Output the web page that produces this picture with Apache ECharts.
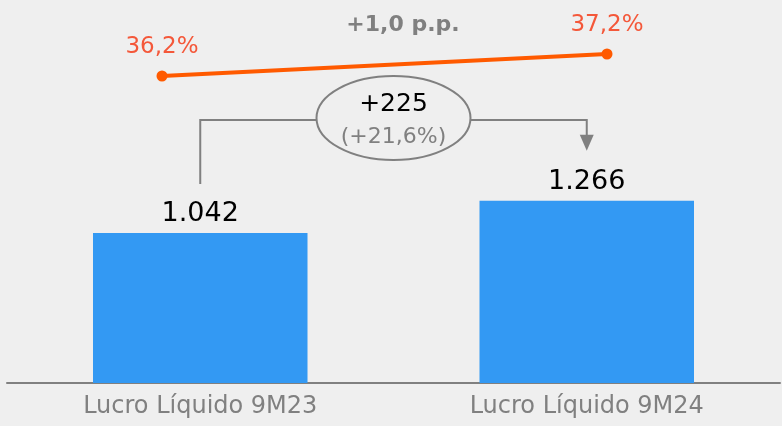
<!DOCTYPE html>
<html><head><meta charset="utf-8">
<script src="https://cdn.jsdelivr.net/npm/echarts@6/dist/echarts.min.js"></script>
<style>html,body{margin:0;padding:0;background:#efefef;}#c{width:782px;height:426px;}</style>
</head><body><div id="c"></div>
<script>
const categories = ['Lucro Líquido 9M23', 'Lucro Líquido 9M24'];
const lucro = [1042, 1266];
const margem = [36.2, 37.2];
const deltaAbs = '+225';
const deltaPct = '(+21,6%)';
const deltaPP = '+1,0 p.p.';

const FONT = 'DejaVu Sans';
function fmtThousand(v){ return String(v).replace(/\B(?=(\d{3})+(?!\d))/g, '.'); }
function fmtPct(v){ return v.toFixed(1).replace('.', ',') + '%'; }

const chart = echarts.init(document.getElementById('c'));
chart.setOption({
  backgroundColor: '#efefef',
  animation: false,
  grid: [
    {left: 7, right: 2, top: 0, bottom: 43},
    {left: 162, right: 175, top: 3.4, height: 99}
  ],
  xAxis: [
    {type: 'category', gridIndex: 0, data: categories,
     axisLine: {lineStyle: {color: '#808080', width: 2}},
     axisTick: {show: false},
     axisLabel: {color: '#808080', fontFamily: FONT, fontSize: 24, margin: 12}},
    {type: 'category', gridIndex: 1, data: categories, boundaryGap: false, show: false}
  ],
  yAxis: [
    {type: 'value', gridIndex: 0, min: 0, max: 2660, show: false, splitLine: {show: false}},
    {type: 'value', gridIndex: 1, min: 35, max: 39.5, show: false, splitLine: {show: false}}
  ],
  series: [
    {type: 'bar', xAxisIndex: 0, yAxisIndex: 0, data: lucro, barWidth: '55.5%',
     itemStyle: {color: '#3399f3'},
     label: {show: true, position: 'top', distance: 5, color: '#000', fontFamily: FONT, fontSize: 27,
       formatter: p => fmtThousand(p.value)}},
    {type: 'line', xAxisIndex: 1, yAxisIndex: 1, data: margem,
     lineStyle: {color: '#ff5a00', width: 4},
     itemStyle: {color: '#ff5a00'}, symbol: 'circle', symbolSize: 11,
     label: {show: true, position: 'top', distance: 12, color: '#f4583a', fontFamily: FONT, fontSize: 23,
       formatter: p => fmtPct(p.value)}}
  ]
});

const b1 = chart.convertToPixel({seriesIndex: 0}, [0, lucro[0]]);
const b2 = chart.convertToPixel({seriesIndex: 0}, [1, lucro[1]]);
const cx = (b1[0] + b2[0]) / 2, cy = 118, rx = 77, ry = 42;
const lineY = 120;
const grey = '#808080';
chart.setOption({
  graphic: [
    {type: 'polyline', shape: {points: [[b1[0], b1[1] - 49], [b1[0], lineY], [cx - rx, lineY]]},
     style: {stroke: grey, lineWidth: 2, fill: null}},
    {type: 'polyline', shape: {points: [[cx + rx, lineY], [b2[0], lineY], [b2[0], b2[1] - 64]]},
     style: {stroke: grey, lineWidth: 2, fill: null}},
    {type: 'polygon', shape: {points: [[b2[0] - 7, b2[1] - 66], [b2[0] + 7, b2[1] - 66], [b2[0], b2[1] - 50]]},
     style: {fill: grey}},
    {type: 'ellipse', shape: {cx: cx, cy: cy, rx: rx, ry: ry},
     style: {stroke: grey, lineWidth: 2, fill: '#efefef'}},
    {type: 'text', x: cx, y: 104, style: {text: deltaAbs, fill: '#000', font: '25px "DejaVu Sans"', align: 'center', verticalAlign: 'middle'}},
    {type: 'text', x: cx, y: 137, style: {text: deltaPct, fill: grey, font: '22px "DejaVu Sans"', align: 'center', verticalAlign: 'middle'}},
    {type: 'text', x: 403, y: 25, style: {text: deltaPP, fill: grey, font: 'bold 22px "DejaVu Sans"', align: 'center', verticalAlign: 'middle'}}
  ]
});
</script></body></html>
